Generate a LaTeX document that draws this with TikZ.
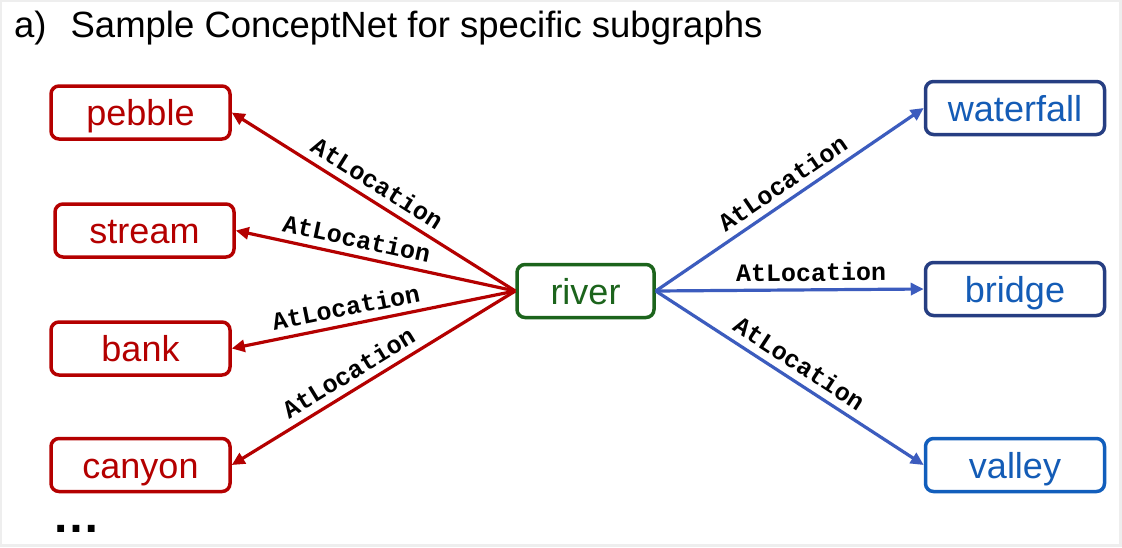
\documentclass[tikz,border=0pt]{standalone}
\usepackage{fontspec}
\setmainfont{Liberation Sans}
\newfontfamily\labelfont{Liberation Mono}
\usetikzlibrary{arrows.meta}
\definecolor{cred}{RGB}{180,0,0}
\definecolor{cgreen}{RGB}{28,100,28}
\definecolor{cbluebox}{RGB}{38,62,130}
\definecolor{cbluebright}{RGB}{18,94,188}
\definecolor{cbluetext}{RGB}{20,92,182}
\definecolor{cbluearrow}{RGB}{60,92,190}
\definecolor{cframe}{RGB}{238,238,238}
\tikzset{
  concept/.style={draw, line width=3.5pt, rounded corners=8pt, minimum width=179pt,
    minimum height=53pt, inner sep=0pt, text height=26pt, text depth=0pt,
    font=\fontsize{36}{40}\selectfont},
  rednode/.style={concept, draw=cred, text=cred},
  bluenode/.style={concept, draw=cbluebox, text=cbluetext},
  rel/.style={line width=3.2pt, -{Triangle[length=13pt,width=12pt]}},
  redrel/.style={rel, draw=cred},
  bluerel/.style={rel, draw=cbluearrow},
  rlabel/.style={sloped, above, text=black, inner sep=7pt,
    font=\labelfont\bfseries\fontsize{25}{27}\selectfont},
}
\begin{document}
\begin{tikzpicture}[x=1pt,y=-1pt]
\useasboundingbox (0,0) rectangle (1122,547);
\fill[cframe] (0,0) rectangle (1122,547);
\fill[white] (2,2) rectangle (1119,544);
\node[anchor=base west, inner sep=0pt, font=\fontsize{36.5}{40}\selectfont] (title) at (14,37)
  {a)\hspace{24pt}Sample ConceptNet for specific subgraphs};
\node[rednode] (pebble) at (140.5,112.5) {pebble};
\node[rednode] (stream) at (144.5,230.5) {stream};
\node[rednode] (bank) at (140.5,348.5) {bank};
\node[rednode] (canyon) at (140.5,465) {canyon};
\node[concept, draw=cgreen, text=cgreen, minimum width=137pt] (river) at (585.5,291) {river};
\node[bluenode] (waterfall) at (1015,108) {waterfall};
\node[bluenode] (bridge) at (1015,289) {bridge};
\node[bluenode, draw=cbluebright] (valley) at (1015,465) {valley};
\node[anchor=base, inner sep=0pt, font=\bfseries\fontsize{48}{50}\selectfont] (dots) at (76,532) {…};
\draw[redrel] (river.west) -- node[rlabel, pos=0.52] {AtLocation} (pebble.east);
\draw[redrel] (river.west) -- node[rlabel, pos=0.58] {AtLocation} (stream.east);
\draw[redrel] (river.west) -- node[rlabel, pos=0.585] {AtLocation} (bank.east);
\draw[redrel] (river.west) -- node[rlabel, pos=0.556] {AtLocation} (canyon.east);
\draw[bluerel] (river.east) -- node[rlabel, pos=0.51] {AtLocation} (waterfall.west);
\draw[bluerel] (river.east) -- node[rlabel, pos=0.58] {AtLocation} (bridge.west);
\draw[bluerel] (river.east) -- node[rlabel, pos=0.50] {AtLocation} (valley.west);
\end{tikzpicture}
\end{document}
